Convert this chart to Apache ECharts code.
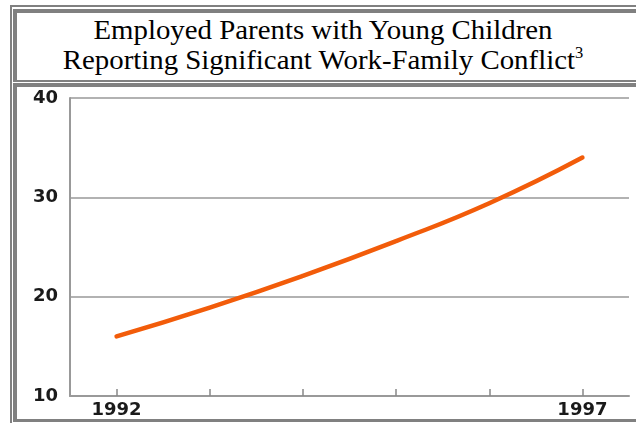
<!DOCTYPE html>
<html>
<head>
<meta charset="utf-8">
<script src="https://cdn.jsdelivr.net/npm/echarts@6/dist/echarts.min.js"></script>
<style>
  html, body { margin:0; padding:0; width:636px; height:423px; overflow:hidden; background:#fff; }
  .box { position:absolute; box-sizing:border-box; border-color:#808080; border-style:solid; }
  #outer { left:10px; top:5px; width:700px; height:500px; border-width:2px; }
  #tcell { left:13px; top:9px; width:700px; height:73px; border-width:4px 0 2px 4px; }
  #ccell { left:13px; top:83px; width:700px; height:339px; border-width:4px 0 3px 4px; }
  #title { position:absolute; left:0; top:15px; width:646px; text-align:center;
           font-family:"Liberation Serif","Times New Roman",serif; font-size:28px; line-height:30px; color:#000;
           transform:scaleX(1.03); transform-origin:323px 0; }
  #title sup { font-size:16px; line-height:0; vertical-align:baseline; position:relative; top:-11px; }
  #chart { position:absolute; left:0; top:0; width:636px; height:423px; }
</style>
</head>
<body>
<div class="box" id="outer"></div>
<div class="box" id="tcell"></div>
<div class="box" id="ccell"></div>
<div id="title">Employed Parents with Young Children<br>Reporting Significant Work-Family Conflict<sup>3</sup></div>
<div id="chart"></div>
<script>
const years = ['1992', '1993', '1994', '1995', '1996', '1997'];
const shownYearLabels = ['1992', '1997'];
const conflictPct = [16.0, 18.9, 22.1, 25.6, 29.4, 34.0];
const yTicks = { min: 10, max: 40, interval: 10 };

const chart = echarts.init(document.getElementById('chart'), null, { renderer: 'canvas' });
chart.setOption({
  animation: false,
  backgroundColor: 'transparent',
  grid: { left: 70, right: 7, top: 98, bottom: 27, containLabel: false },
  xAxis: {
    type: 'category',
    data: years,
    boundaryGap: true,
    axisLine: { show: true, lineStyle: { color: '#999', width: 2 } },
    axisTick: { show: true, inside: true, length: 7, alignWithLabel: true, interval: 0,
                lineStyle: { color: '#888', width: 1.5 } },
    axisLabel: {
      interval: 0,
      formatter: v => shownYearLabels.includes(v) ? v : '',
      margin: 5, color: '#1a1a1a', fontSize: 18, fontWeight: 'bold', fontFamily: 'DejaVu Sans'
    },
    splitLine: { show: false }
  },
  yAxis: {
    type: 'value',
    min: yTicks.min, max: yTicks.max, interval: yTicks.interval,
    axisLine: { show: true, lineStyle: { color: '#999', width: 2 } },
    axisTick: { show: false },
    axisLabel: { margin: 12, color: '#1a1a1a', fontSize: 18, fontWeight: 'bold', fontFamily: 'DejaVu Sans' },
    splitLine: { show: true, lineStyle: { color: '#999', width: 1.5 } }
  },
  series: [{
    type: 'line',
    data: conflictPct,
    smooth: true,
    symbol: 'none',
    lineStyle: { color: '#F25C0A', width: 4.5, cap: 'round' }
  }]
});
</script>
</body>
</html>
